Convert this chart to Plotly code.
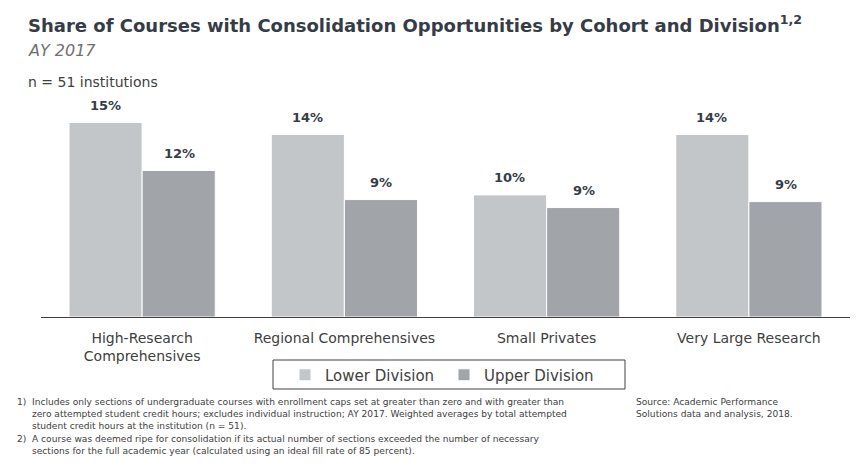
import plotly.graph_objects as go

cohorts = ["High-Research<br>Comprehensives", "Regional Comprehensives",
           "Small Privates", "Very Large Research"]
lower_division = [15.36, 14.41, 9.64, 14.41]
upper_division = [11.57, 9.27, 8.64, 9.11]

LOWER_COLOR = "#c3c6c9"
UPPER_COLOR = "#a1a4a8"
TEXT_DARK = "#353c46"
FONT = "DejaVu Sans"

# plot area in pixels: left 41, right 850, top 89, bottom 317
PL, PW, PB, PH = 41, 809, 317, 228


def px_x(x):
    return (x - PL) / PW


def px_y(y):
    return (PB - y) / PH


fig = go.Figure()
fig.add_trace(go.Bar(x=cohorts, y=lower_division, name="Lower Division",
                     marker=dict(color=LOWER_COLOR, line=dict(color="white", width=1))))
fig.add_trace(go.Bar(x=cohorts, y=upper_division, name="Upper Division",
                     marker=dict(color=UPPER_COLOR, line=dict(color="white", width=1))))

# value labels above bars
for series, shift in ((lower_division, -37), (upper_division, 37)):
    for cat, val in zip(cohorts, series):
        fig.add_annotation(x=cat, y=val, text=f"<b>{val:.0f}%</b>", showarrow=False,
                           xshift=shift, yshift=17,
                           font=dict(family=FONT, size=13, color=TEXT_DARK))

fig.update_layout(
    width=865, height=468,
    margin=dict(l=PL, r=865 - PL - PW, t=PB - PH, b=468 - PB, autoexpand=False),
    paper_bgcolor="white", plot_bgcolor="white",
    barmode="group", bargap=0.277, bargroupgap=0,
    font=dict(family=FONT, color="#404040"),
    showlegend=True,
    legend=dict(orientation="h", x=px_x(285), xanchor="left", y=px_y(375), yanchor="middle",
                borderwidth=0, bgcolor="rgba(0,0,0,0)",
                font=dict(family=FONT, size=15, color="#404040"),
                itemwidth=30, entrywidth=114, entrywidthmode="pixels"),
)
# legend frame
fig.add_shape(type="rect", xref="paper", yref="paper",
              x0=px_x(273), x1=px_x(625), y0=px_y(389), y1=px_y(360),
              line=dict(color="#404040", width=1))

fig.update_xaxes(showline=True, linecolor="#404040", linewidth=1,
                 ticks="outside", ticklen=8, tickcolor="rgba(0,0,0,0)",
                 tickfont=dict(family=FONT, size=14, color="#404040"))
fig.update_yaxes(range=[0, 18], visible=False)

# header text
fig.add_annotation(xref="paper", yref="paper", x=px_x(26), y=px_y(24), xanchor="left", yanchor="middle",
                   text="<b>Share of Courses with Consolidation Opportunities by Cohort and Division<sup>1,2</sup></b>",
                   showarrow=False, font=dict(family=FONT, size=18, color=TEXT_DARK))
fig.add_annotation(xref="paper", yref="paper", x=px_x(26), y=px_y(50), xanchor="left", yanchor="middle",
                   text="<i>AY 2017</i>", showarrow=False,
                   font=dict(family=FONT, size=16, color="#707070"))
fig.add_annotation(xref="paper", yref="paper", x=px_x(26), y=px_y(82), xanchor="left", yanchor="middle",
                   text="n = 51 institutions", showarrow=False,
                   font=dict(family=FONT, size=14, color="#404040"))

# footnotes
note_font = dict(family=FONT, size=9.1, color="#404040")
footnotes = [
    ("1)", "Includes only sections of undergraduate courses with enrollment caps set at greater than zero and with greater than<br>"
           "zero attempted student credit hours; excludes individual instruction; AY 2017. Weighted averages by total attempted<br>"
           "student credit hours at the institution (n = 51).", 395),
    ("2)", "A course was deemed ripe for consolidation if its actual number of sections exceeded the number of necessary<br>"
           "sections for the full academic year (calculated using an ideal fill rate of 85 percent).", 432),
]
for num, body, ytop in footnotes:
    fig.add_annotation(xref="paper", yref="paper", x=px_x(15), y=px_y(ytop),
                       xanchor="left", yanchor="top", text=num, showarrow=False, font=note_font)
    fig.add_annotation(xref="paper", yref="paper", x=px_x(30), y=px_y(ytop),
                       xanchor="left", yanchor="top", align="left", text=body,
                       showarrow=False, font=note_font)
fig.add_annotation(xref="paper", yref="paper", x=px_x(634), y=px_y(395),
                   xanchor="left", yanchor="top", align="left",
                   text="Source: Academic Performance<br>Solutions data and analysis, 2018.",
                   showarrow=False, font=note_font)

# drop the browser's default 8px body margin so the figure sits at the page corner
fig.write_html("out.html", config={"displayModeBar": False},
               post_script="document.body.style.margin = '0';")
